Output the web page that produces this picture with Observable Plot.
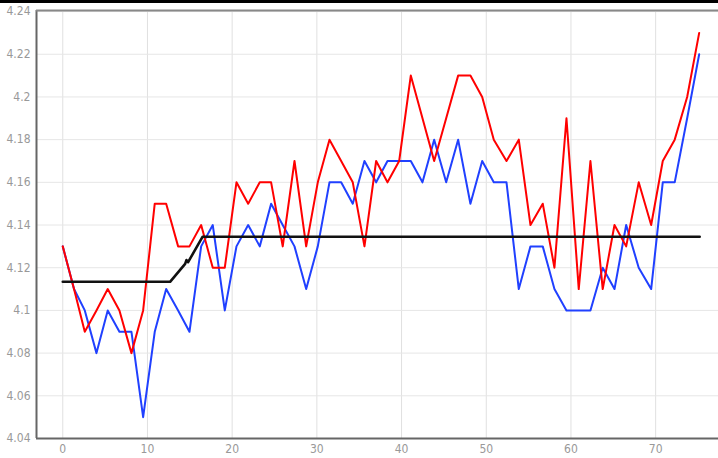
<!DOCTYPE html>
<html>
<head>
<meta charset="utf-8">
<script src="https://cdn.jsdelivr.net/npm/d3@7"></script>
<script src="https://cdn.jsdelivr.net/npm/@observablehq/plot@0.6"></script>
<style>
  html, body { margin: 0; padding: 0; background: #fff; }
  #chart { width: 718px; border-top: 3px solid #000; }
</style>
</head>
<body>
<div id="chart"></div>
<script>
// x positions of the samples
const xs = [0,1.33,2.60,3.98,5.31,6.69,8.11,9.49,10.86,12.21,13.62,14.96,16.34,17.71,19.13,20.51,21.89,23.26,24.60,25.97,27.36,28.74,30.11,31.49,32.87,34.24,35.62,37.00,38.34,39.72,41.09,42.47,43.85,45.27,46.68,48.13,49.52,50.89,52.39,53.84,55.22,56.67,58.05,59.47,60.92,62.30,63.75,65.14,66.52,68.00,69.47,70.84,72.25,73.72,75.14];
// red series
const redValues = [4.13,4.11,4.09,4.10,4.11,4.10,4.08,4.10,4.15,4.15,4.13,4.13,4.14,4.12,4.12,4.16,4.15,4.16,4.16,4.13,4.17,4.13,4.16,4.18,4.17,4.16,4.13,4.17,4.16,4.17,4.21,4.19,4.17,4.19,4.21,4.21,4.20,4.18,4.17,4.18,4.14,4.15,4.12,4.19,4.11,4.17,4.11,4.14,4.13,4.16,4.14,4.17,4.18,4.20,4.23];
// blue series
const blueValues = [4.13,4.11,4.10,4.08,4.10,4.09,4.09,4.05,4.09,4.11,4.10,4.09,4.13,4.14,4.10,4.13,4.14,4.13,4.15,4.14,4.13,4.11,4.13,4.16,4.16,4.15,4.17,4.16,4.17,4.17,4.17,4.16,4.18,4.16,4.18,4.15,4.17,4.16,4.16,4.11,4.13,4.13,4.11,4.10,4.10,4.10,4.12,4.11,4.14,4.12,4.11,4.16,4.16,4.19,4.22];
// black reference line
const blackX = [0, 12.67, 14.45, 14.6, 14.8, 16.5, 75.2];
const blackY = [4.1134, 4.1134, 4.1218, 4.1236, 4.1226, 4.1345, 4.1345];
// ticks
const xTicks = [0, 10, 20, 30, 40, 50, 60, 70];
const yTicks = [4.04, 4.06, 4.08, 4.10, 4.12, 4.14, 4.16, 4.18, 4.20, 4.22, 4.24];

const xDomain = [-3.1, 77.42];
const yDomain = [4.04, 4.2405];

const red = xs.map((x, i) => ({x, y: redValues[i]}));
const blue = xs.map((x, i) => ({x, y: blueValues[i]}));
const black = blackX.map((x, i) => ({x, y: blackY[i]}));

const chart = Plot.plot({
  width: 718,
  height: 455,
  marginLeft: 36,
  marginRight: 0,
  marginTop: 7,
  marginBottom: 20,
  style: { fontFamily: "'Liberation Sans Narrow', 'DejaVu Sans Condensed', 'Liberation Sans', sans-serif", fontSize: "12px", background: "#fff", overflow: "visible" },
  x: { domain: xDomain, label: null },
  y: { domain: yDomain, label: null },
  marks: [
    Plot.gridX(xTicks, { stroke: "#e0e0e0", strokeOpacity: 1 }),
    Plot.gridY(yTicks, { stroke: "#e6e6e6", strokeOpacity: 1 }),
    Plot.line(blue, { x: "x", y: "y", stroke: "#2040ff", strokeWidth: 2 }),
    Plot.line(red, { x: "x", y: "y", stroke: "#ff0000", strokeWidth: 2 }),
    Plot.line(black, { x: "x", y: "y", stroke: "#111", strokeWidth: 2.6 }),
    Plot.ruleX([xDomain[0]], { stroke: "#666", strokeWidth: 2 }),
    Plot.ruleY([yDomain[0]], { stroke: "#666", strokeWidth: 2 }),
    Plot.ruleY([yDomain[1]], { stroke: "#888", strokeWidth: 2 }),
    Plot.axisY(yTicks, { tickSize: 0, tickPadding: 6, fill: "#999", label: null, tickFormat: d => String(+d.toFixed(2)) }),
    Plot.axisX(xTicks, { tickSize: 0, tickPadding: 6, fill: "#999", label: null, tickFormat: d => String(d) })
  ]
});
document.getElementById("chart").appendChild(chart);
</script>
</body>
</html>
